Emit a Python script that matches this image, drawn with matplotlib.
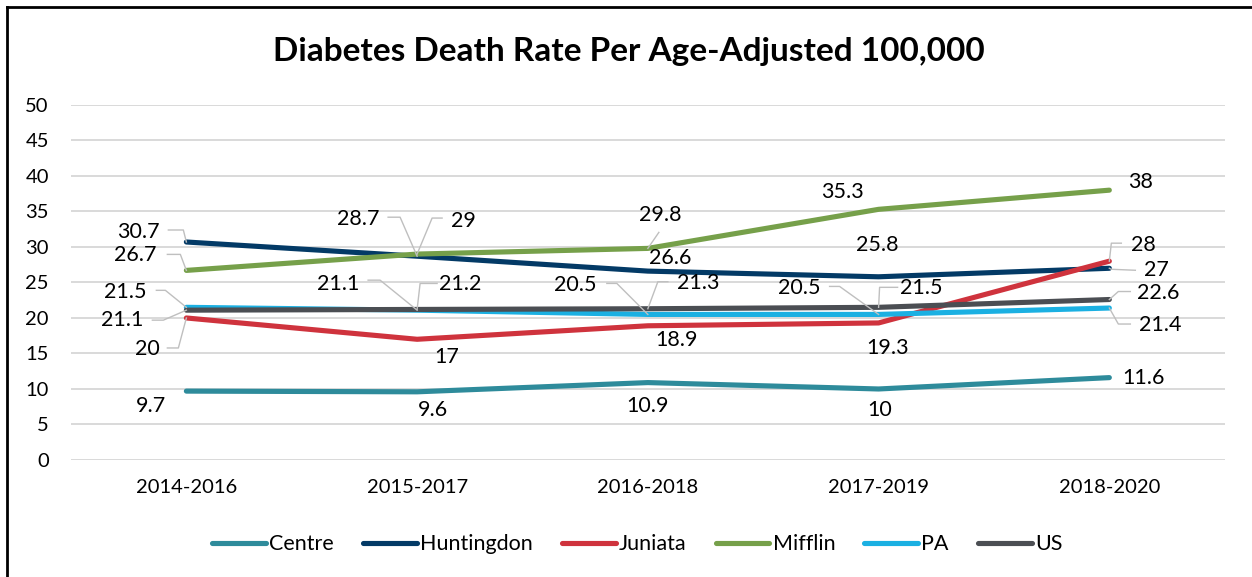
import matplotlib

matplotlib.use("Agg")
import matplotlib.pyplot as plt
import matplotlib.transforms as mtransforms
from matplotlib.lines import Line2D

plt.rcParams["font.family"] = ["Lato", "DejaVu Sans"]

# ---------------------------------------------------------------------------
# Data
# ---------------------------------------------------------------------------
periods = ["2014-2016", "2015-2017", "2016-2018", "2017-2019", "2018-2020"]

centre = [9.7, 9.6, 10.9, 10, 11.6]
huntingdon = [30.7, 28.7, 26.6, 25.8, 27]
juniata = [20, 17, 18.9, 19.3, 28]
mifflin = [26.7, 29, 29.8, 35.3, 38]
pa = [21.5, 21.1, 20.5, 20.5, 21.4]
us = [21.1, 21.2, 21.3, 21.5, 22.6]

names = ["Centre", "Huntingdon", "Juniata", "Mifflin", "PA", "US"]
values = [centre, huntingdon, juniata, mifflin, pa, us]
colors = ["#2e8b9b", "#033a66", "#cf333d", "#76a04a", "#1bb0e2", "#4b4e53"]

# label placement (pixels, x right / y up, relative to the point):
# (text dx, text dy, leader knee, leader end) -- leader None = no line
LABEL_POS = {
    "Centre": [(-35, -15, None, None), (16, -18, None, None), (0, -23, None, None),
               (1, -21, None, None), (34, 0, None, None)],
    "Huntingdon": [(-48, 10, (-3, 12), (-18, 12)), (-59, 37, (-17, 39), (-29, 39)),
                   (22, 13, None, None), (-1, 32, None, None), (47, -2, (2, -1), (26, -2))],
    "Juniata": [(-39, -31, (-8, -30), (-19, -30)), (30, -18, None, None),
                (29, -14, None, None), (9, -25, None, None), (34, 16, (2, 18), (12, 18))],
    "Mifflin": [(-51, 15, (-6, 16), (-19, 16)), (46, 33, (15, 36), (25, 36)),
                (12, 33, (11, 16), (11, 16)), (-36, 17, None, None), (31, 8, None, None)],
    "PA": [(-61, 15, (-21, 17), (-30, 17)), (-79, 26, (-37, 30), (-49, 30)),
           (-73, 29, (-31, 31), (-41, 31)), (-79, 26, (-39, 28), (-49, 28)),
           (51, -17, (9, -16), (21, -16))],
    "US": [(-64, -10, (-23, -10), (-34, -10)), (43, 25, (3, 26), (20, 26)),
           (50, 26, (10, 27), (20, 27)), (43, 19, (1, 20), (19, 20)),
           (49, 7, (9, 8), (21, 8))],
}

DPI = 100
fig = plt.figure(figsize=(12.52, 5.77), dpi=DPI)
ax = fig.add_axes([0.0567, 0.2028, 0.9215, 0.6153])

x = list(range(len(periods)))
for name, vals, color in zip(names, values, colors):
    ax.plot(x, vals, color=color, lw=3.7, solid_capstyle="round",
            solid_joinstyle="round", label=name, zorder=3)

# data labels with Excel-style leader lines
for name, vals in zip(names, values):
    for i, (v, (dx, dy, knee, end)) in enumerate(zip(vals, LABEL_POS[name])):
        ax.annotate(f"{v:g}", xy=(i, v), xytext=(dx, dy), textcoords="offset pixels",
                    ha="center", va="center", fontsize=15.5, color="black", zorder=5)
        if knee is None:
            continue
        tr = fig.dpi_scale_trans + mtransforms.ScaledTranslation(i, v, ax.transData)
        xs = [0, knee[0] / DPI, end[0] / DPI]
        ys = [0, knee[1] / DPI, end[1] / DPI]
        ax.add_line(Line2D(xs, ys, transform=tr, color="#bfbfbf", lw=1.0,
                           zorder=4, clip_on=False))

ax.set_xlim(-0.5, len(periods) - 0.5)
ax.set_ylim(0, 50)
ax.set_yticks(range(0, 51, 5))
ax.set_xticks(x)
ax.set_xticklabels(periods)
ax.tick_params(axis="both", length=0, labelsize=14.5)
ax.tick_params(axis="y", pad=16)
ax.tick_params(axis="x", pad=14)
ax.grid(axis="y", color="#d9d9d9", lw=1.4, zorder=0)
ax.set_axisbelow(True)
for sp in ax.spines.values():
    sp.set_visible(False)

fig.text(0.5025, 0.911, "Diabetes Death Rate Per Age-Adjusted 100,000",
         ha="center", va="center", fontsize=24, fontweight="bold")

ax.legend(loc="center", bbox_to_anchor=(0.509, 0.057), bbox_transform=fig.transFigure,
          ncol=6, frameon=False, fontsize=15.5, handlelength=2.5,
          handletextpad=0.15, columnspacing=1.35)

# outer frame (left and top edges visible in the original)
fig.add_artist(Line2D([0.0056, 0.0056], [0, 0.9879], transform=fig.transFigure,
                      color="black", lw=2))
fig.add_artist(Line2D([0.0056, 1.0], [0.9879, 0.9879], transform=fig.transFigure,
                      color="black", lw=2))

fig.savefig("out.png", dpi=DPI)
